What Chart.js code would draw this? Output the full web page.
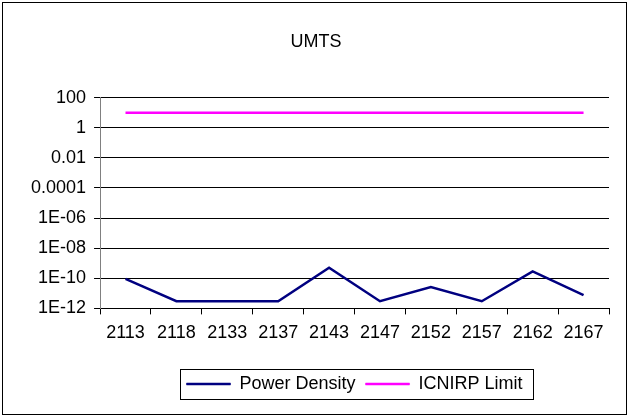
<!DOCTYPE html>
<html>
<head>
<meta charset="utf-8">
<script src="https://cdn.jsdelivr.net/npm/chart.js@4/dist/chart.umd.min.js"></script>
<style>
  html, body { margin: 0; padding: 0; background: #fff; }
  #wrap { width: 630px; height: 419px; }
</style>
</head>
<body>
<div id="wrap"><canvas id="chart" width="630" height="419"></canvas></div>
<script>
const categories = ['2113','2118','2133','2137','2143','2147','2152','2157','2162','2167'];
const powerDensity = [9e-11, 3e-12, 3e-12, 3e-12, 5e-10, 3e-12, 2.6e-11, 3e-12, 2.9e-10, 7.5e-12];
const icnirpLimit = [10, 10, 10, 10, 10, 10, 10, 10, 10, 10];
const yTicks = [1e-12, 1e-10, 1e-8, 1e-6, 1e-4, 0.01, 1, 100];
const yTickLabels = ['1E-12', '1E-10', '1E-08', '1E-06', '0.0001', '0.01', '1', '100'];

const FONT = "'Liberation Sans', Arial, sans-serif";

// frame around the whole chart and around the legend
const frames = {
    id: 'frames',
    afterDraw(chart) {
        const ctx = chart.ctx;
        ctx.save();
        ctx.strokeStyle = '#000';
        ctx.lineWidth = 1;
        ctx.strokeRect(2.5, 2.5, 624, 412);
        const boxes = chart.legend.legendHitBoxes;
        if (boxes && boxes.length) {
            const first = boxes[0], last = boxes[boxes.length - 1];
            const x0 = Math.round(first.left - 7) + 0.5;
            const x1 = Math.round(last.left + last.width + 10) + 0.5;
            const y0 = Math.round(first.top - 6) + 0.5;
            const y1 = Math.round(first.top + first.height + 6) + 0.5;
            ctx.strokeRect(x0, y0, x1 - x0, y1 - y0);
        }
        ctx.restore();
    }
};

new Chart(document.getElementById('chart').getContext('2d'), {
    type: 'line',
    data: {
        labels: categories,
        datasets: [
            {
                label: 'Power Density',
                data: powerDensity,
                borderColor: '#000080',
                backgroundColor: '#000080',
                borderWidth: 2.5,
                pointRadius: 0,
                tension: 0
            },
            {
                label: 'ICNIRP Limit',
                data: icnirpLimit,
                borderColor: '#ff00ff',
                backgroundColor: '#ff00ff',
                borderWidth: 2.5,
                pointRadius: 0,
                tension: 0
            }
        ]
    },
    options: {
        responsive: false,
        animation: false,
        layout: { padding: { left: 23, right: 21, top: 22, bottom: 16 } },
        plugins: {
            title: {
                display: true,
                text: 'UMTS',
                color: '#000',
                font: { family: FONT, size: 18, weight: 'normal' },
                padding: { top: 9, bottom: 45 }
            },
            legend: {
                position: 'bottom',
                fullSize: false,
                labels: {
                    color: '#000',
                    font: { family: FONT, size: 18 },
                    boxWidth: 44,
                    boxHeight: 2,
                    padding: 10,
                    generateLabels(chart) {
                        return chart.data.datasets.map((ds, i) => ({
                            text: ds.label,
                            fillStyle: ds.borderColor,
                            strokeStyle: ds.borderColor,
                            lineWidth: 0.5,
                            fontColor: '#000',
                            datasetIndex: i
                        }));
                    }
                }
            },
            tooltip: { enabled: false }
        },
        scales: {
            x: {
                type: 'category',
                offset: true,
                afterFit(scale) { scale.height += 13; },
                grid: {
                    display: true,
                    drawOnChartArea: false,
                    drawTicks: true,
                    tickLength: 6,
                    offset: true,
                    color: '#000'
                },
                border: { display: true, color: '#000' },
                ticks: {
                    color: '#000',
                    font: { family: FONT, size: 18 },
                    padding: 8,
                    maxRotation: 0,
                    autoSkip: false
                }
            },
            y: {
                type: 'logarithmic',
                min: 1e-12,
                max: 100,
                afterBuildTicks(axis) {
                    axis.ticks = yTicks.map(v => ({ value: v, major: false }));
                },
                grid: {
                    color: '#000',
                    lineWidth: 1,
                    tickLength: 6
                },
                border: { display: true, color: '#808080' },
                ticks: {
                    color: '#000',
                    font: { family: FONT, size: 18 },
                    padding: 8,
                    autoSkip: false,
                    callback: (value, index) => yTickLabels[index]
                }
            }
        }
    },
    plugins: [frames]
});
</script>
</body>
</html>
